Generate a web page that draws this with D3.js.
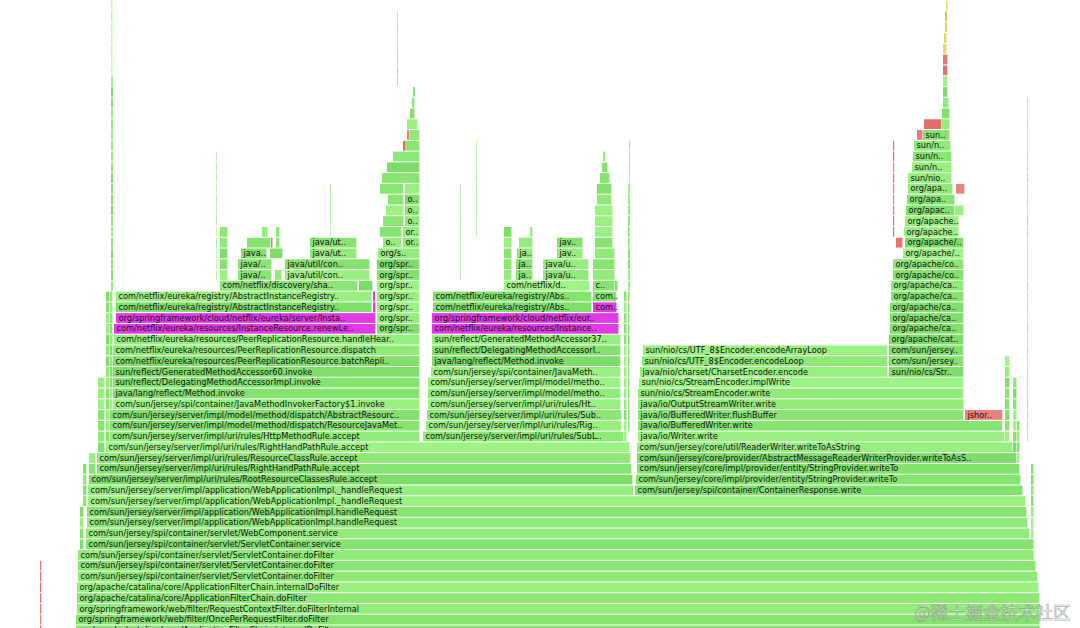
<!DOCTYPE html>
<html><head><meta charset="utf-8">
<script src="https://cdn.jsdelivr.net/npm/d3@7"></script>
<style>html,body{margin:0;padding:0;background:#fff;overflow:hidden} svg{display:block}</style>
</head><body>
<svg id="chart" width="1080" height="628"></svg>
<script>
// ---- DATA (sample offsets from the root frame start, sample counts, stack depth) ----
// each entry: [depth, startSample, sampleCount, label, kind]  kind: j=java, m=highlight, r=native, y=inlined
const totalSamples = 964;
const maxDepth = 58;

const baseStack = [
  [-1, 0, 964, "org/apache/catalina/core/ApplicationFilterChain.internalDoFilter"],
  [0, 0, 964, "org/springframework/web/filter/OncePerRequestFilter.doFilter"],
  [1, 1, 963, "org/springframework/web/filter/RequestContextFilter.doFilterInternal"],
  [2, 1, 963, "org/apache/catalina/core/ApplicationFilterChain.doFilter"],
  [3, 1, 962, "org/apache/catalina/core/ApplicationFilterChain.internalDoFilter"],
  [4, 2, 960, "com/sun/jersey/spi/container/servlet/ServletContainer.doFilter"],
  [5, 2, 958, "com/sun/jersey/spi/container/servlet/ServletContainer.doFilter"],
  [6, 2, 956, "com/sun/jersey/spi/container/servlet/ServletContainer.doFilter"],
  [7, 10, 946, "com/sun/jersey/spi/container/servlet/ServletContainer.service"],
  [8, 10, 944, "com/sun/jersey/spi/container/servlet/WebComponent.service"],
  [9, 11, 941, "com/sun/jersey/server/impl/application/WebApplicationImpl.handleRequest"],
  [10, 11, 940, "com/sun/jersey/server/impl/application/WebApplicationImpl.handleRequest"],
  [11, 12, 938, "com/sun/jersey/server/impl/application/WebApplicationImpl._handleRequest"],
  [12, 12, 546, "com/sun/jersey/server/impl/application/WebApplicationImpl._handleRequest"],
  [13, 13, 544, "com/sun/jersey/server/impl/uri/rules/RootResourceClassesRule.accept"],
  [14, 21, 535, "com/sun/jersey/server/impl/uri/rules/RightHandPathRule.accept"],
  [15, 21, 534, "com/sun/jersey/server/impl/uri/rules/ResourceClassRule.accept"],
  [16, 30, 524, "com/sun/jersey/server/impl/uri/rules/RightHandPathRule.accept"]
];

const peerReplicationStack = [
  [17, 34, 310, "com/sun/jersey/server/impl/uri/rules/HttpMethodRule.accept"],
  [18, 34, 310, "com/sun/jersey/server/impl/model/method/dispatch/ResourceJavaMet.."],
  [19, 34, 310, "com/sun/jersey/server/impl/model/method/dispatch/AbstractResourc.."],
  [20, 37, 307, "com/sun/jersey/spi/container/JavaMethodInvokerFactory$1.invoke"],
  [21, 37, 307, "java/lang/reflect/Method.invoke"],
  [22, 37, 307, "sun/reflect/DelegatingMethodAccessorImpl.invoke"],
  [23, 37, 307, "sun/reflect/GeneratedMethodAccessor60.invoke"],
  [24, 37, 307, "com/netflix/eureka/resources/PeerReplicationResource.batchRepli.."],
  [25, 37, 307, "com/netflix/eureka/resources/PeerReplicationResource.dispatch"],
  [26, 38, 306, "com/netflix/eureka/resources/PeerReplicationResource.handleHear.."],
  [27, 38, 262, "com/netflix/eureka/resources/InstanceResource.renewLe..", "m"],
  [27, 301, 43, "org/spr.."],
  [28, 40, 260, "org/springframework/cloud/netflix/eureka/server/Insta..", "m"],
  [28, 301, 43, "org/spr.."],
  [29, 40, 256, "com/netflix/eureka/registry/AbstractInstanceRegistry.."],
  [29, 297, 3, "", "m"],
  [29, 301, 43, "org/spr.."],
  [30, 40, 256, "com/netflix/eureka/registry/AbstractInstanceRegistry.."],
  [30, 297, 2, "", "m"],
  [30, 301, 43, "org/spr.."],
  [31, 144, 138, "com/netflix/discovery/sha.."],
  [31, 283, 14, ""],
  [31, 301, 43, "org/spr.."],
  [32, 162, 34, "java/.."],
  [32, 199, 7, ""],
  [32, 209, 85, "java/util/con.."],
  [32, 301, 43, "org/spr.."],
  [33, 162, 34, "java/.."],
  [33, 209, 85, "java/util/con.."],
  [33, 301, 43, "org/spr.."],
  [34, 165, 26, "java.."],
  [34, 194, 13, ""],
  [34, 234, 47, "java/ut.."],
  [34, 302, 42, "org/s.."],
  [35, 171, 24, ""],
  [35, 195, 1.5, "", "r"],
  [35, 200, 4, ""],
  [35, 234, 47, "java/ut.."],
  [35, 307, 19, "o.."],
  [35, 327, 17, "or.."],
  [36, 186, 6, ""],
  [36, 200, 4, ""],
  [36, 304, 22, ""],
  [36, 327, 17, "or.."],
  [37, 307, 21, ""],
  [37, 329, 15, "o.."],
  [38, 310, 18, ""],
  [38, 329, 15, "o.."],
  [39, 312, 16, ""],
  [39, 329, 15, "o.."],
  [40, 304, 24, ""],
  [40, 329, 15, ""],
  [41, 306, 38, ""],
  [42, 311, 33, ""],
  [43, 317, 27, ""],
  [44, 327, 2, "", "r"],
  [44, 329, 15, ""],
  [45, 331, 3, "", "r"],
  [45, 334, 10, ""],
  [46, 331, 11, ""],
  [47, 334, 5, ""],
  [48, 336, 3, ""],
  [49, 337, 2, ""]
];

const instanceResourceStack = [
  [17, 347, 201, "com/sun/jersey/server/impl/uri/rules/SubL.."],
  [18, 350, 196, "com/sun/jersey/server/impl/uri/rules/Rig.."],
  [19, 351, 195, "com/sun/jersey/server/impl/uri/rules/Sub.."],
  [20, 352, 193, "com/sun/jersey/server/impl/uri/rules/Ht.."],
  [21, 352, 193, "com/sun/jersey/server/impl/model/metho.."],
  [22, 352, 193, "com/sun/jersey/server/impl/model/metho.."],
  [23, 355, 190, "com/sun/jersey/spi/container/JavaMeth.."],
  [24, 356, 189, "java/lang/reflect/Method.invoke"],
  [25, 356, 189, "sun/reflect/DelegatingMethodAccessorI.."],
  [26, 356, 189, "sun/reflect/GeneratedMethodAccessor37.."],
  [27, 356, 187, "com/netflix/eureka/resources/Instance..", "m"],
  [28, 356, 187, "org/springframework/cloud/netflix/eur..", "m"],
  [29, 357, 159, "com/netflix/eureka/registry/Abs.."],
  [29, 517, 24, "com..", "m"],
  [30, 357, 159, "com/netflix/eureka/registry/Abs.."],
  [30, 517, 24, "com.."],
  [31, 428, 86, "com/netflix/d.."],
  [31, 517, 22, "c.."],
  [31, 539, 3, ""],
  [32, 440, 17, "ja.."],
  [32, 467, 46, "java/u.."],
  [32, 517, 22, ""],
  [33, 440, 17, "ja.."],
  [33, 467, 46, "java/u.."],
  [33, 517, 22, ""],
  [34, 441, 16, "ja.."],
  [34, 481, 26, "jav.."],
  [34, 519, 20, ""],
  [35, 443, 14, ""],
  [35, 481, 26, "jav.."],
  [35, 519, 18, ""],
  [36, 454, 3, ""],
  [36, 519, 18, ""],
  [37, 519, 18, ""],
  [38, 519, 18, ""],
  [39, 521, 15, ""],
  [40, 521, 15, ""],
  [41, 524, 10, ""],
  [42, 526, 6, ""],
  [43, 527, 3, ""]
];

const responseWriteStack = [
  [12, 559, 388, "com/sun/jersey/spi/container/ContainerResponse.write"],
  [13, 560, 385, "com/sun/jersey/core/impl/provider/entity/StringProvider.writeTo"],
  [14, 561, 382, "com/sun/jersey/core/impl/provider/entity/StringProvider.writeTo"],
  [15, 561, 380, "com/sun/jersey/core/provider/AbstractMessageReaderWriterProvider.writeToAsS.."],
  [16, 561, 376, "com/sun/jersey/core/util/ReaderWriter.writeToAsString"],
  [17, 562, 367, "java/io/Writer.write"],
  [18, 562, 365, "java/io/BufferedWriter.write"],
  [19, 562, 326, "java/io/BufferedWriter.flushBuffer"],
  [19, 889, 38, "jshor..", "r"],
  [20, 562, 326, "java/io/OutputStreamWriter.write"],
  [21, 562, 326, "sun/nio/cs/StreamEncoder.write"],
  [22, 563, 325, "sun/nio/cs/StreamEncoder.implWrite"],
  [23, 564, 248, "java/nio/charset/CharsetEncoder.encode"],
  [23, 813, 75, "sun/nio/cs/Str.."],
  [24, 566, 246, "sun/nio/cs/UTF_8$Encoder.encodeLoop"],
  [24, 813, 75, "com/sun/jersey.."],
  [25, 567, 245, "sun/nio/cs/UTF_8$Encoder.encodeArrayLoop"],
  [25, 813, 75, "com/sun/jersey.."]
];

const catalinaTower = [
  [26, 813, 75, "org/apache/cat.."],
  [27, 814, 74, "org/apache/ca.."],
  [28, 814, 74, "org/apache/ca.."],
  [29, 814, 74, "org/apache/ca.."],
  [30, 815, 73, "org/apache/ca.."],
  [31, 815, 73, "org/apache/ca.."],
  [32, 817, 71, "org/apache/co.."],
  [33, 817, 71, "org/apache/co.."],
  [34, 827, 61, "org/apache/.."],
  [35, 820, 7, "", "r"],
  [35, 829, 59, "org/apache/.."],
  [36, 828, 55, "org/apache.."],
  [37, 829, 54, "org/apache.."],
  [38, 830, 49, "org/apac.."],
  [38, 879, 9, ""],
  [39, 831, 48, "org/apa.."],
  [40, 832, 45, "org/apa.."],
  [40, 880, 9, "", "r"],
  [41, 832, 44, "sun/nio.."],
  [42, 836, 40, "sun/n.."],
  [43, 837, 39, "sun/n.."],
  [44, 838, 37, "sun/n.."],
  [45, 841, 6, "", "r"],
  [45, 847, 27, "sun.."],
  [46, 848, 18, "", "r"],
  [46, 866, 8, ""],
  [47, 866, 8, ""],
  [48, 867, 6, ""],
  [49, 867, 5, ""],
  [50, 867, 5, ""],
  [51, 867, 5, "", "r"],
  [52, 867, 5, "", "r"],
  [53, 867, 4, "", "y"],
  [54, 868, 3, "", "y"],
  [55, 869, 2, "", "y"],
  [56, 869, 2, "", "y"],
  [57, 870, 1.5, "", "y"]
];

// narrow call chains repeated over a depth range: [fromDepth, toDepth, startSample, sampleCount, kind]
const narrowChains = [
  [-1, 5, -36, 1.2, "r"],
  [7, 10, 4, 4, "j"],
  [11, 14, 7, 4, "j"],
  [14, 15, 13, 7, "j"],
  [16, 22, 22, 7, "j"],
  [17, 30, 30, 4, "j"],
  [20, 30, 34, 3, "j"],
  [31, 50, 35, 2, "j"],
  [51, 57, 35.5, 0.8, "j"],
  [32, 36, 144, 8, "j"],
  [32, 43, 140, 0.6, "j"],
  [36, 40, 254, 0.6, "j"],
  [32, 36, 428, 8, "j"],
  [32, 40, 384, 0.6, "j"],
  [36, 44, 400, 0.6, "j"],
  [17, 30, 548, 3, "j"],
  [18, 40, 552, 1.5, "j"],
  [31, 44, 553, 0.7, "j"],
  [36, 44, 817, 1.2, "r"],
  [17, 24, 929, 5, "j"],
  [16, 22, 937, 4, "j"],
  [13, 18, 941, 3, "j"],
  [17, 48, 951, 0.7, "j"],
  [6, 14, 955, 3, "j"],
  [50, 56, 321, 0.7, "j"]
];

const watermarkText = "@稀土掘金技术社区";

// ---- RENDER ----
const W = 1080, H = 628;
const rowStep = 10.77;
const x = d3.scaleLinear().domain([0, totalSamples]).range([76, 1040]);
const y = d3.scaleLinear().domain([0, maxDepth]).range([614.7, 614.7 - maxDepth * rowStep]);

const frames = [];
function pushList(list) {
  list.forEach(d => frames.push({depth: d[0], start: d[1], size: d[2], label: d[3] || "", kind: d[4] || "j"}));
}
// narrow chains first so labelled frames paint on top
narrowChains.forEach(c => {
  for (let k = c[0]; k <= c[1]; k++) frames.push({depth: k, start: c[2], size: c[3], label: "", kind: c[4]});
});
[baseStack, peerReplicationStack, instanceResourceStack, responseWriteStack, catalinaTower].forEach(pushList);

function hash(s) { let h = 2166136261; for (let i = 0; i < s.length; i++) { h ^= s.charCodeAt(i); h = Math.imul(h, 16777619) >>> 0; } return h; }
const greenScale = d3.interpolateRgb("rgb(124,220,104)", "rgb(158,244,132)");
const redScale = d3.interpolateRgb("rgb(222,104,104)", "rgb(236,130,126)");
const yelScale = d3.interpolateRgb("rgb(206,206,80)", "rgb(226,226,110)");
function frameColor(d) {
  const t = (hash(d.label + "|" + d.depth + "|" + d.start) % 1000) / 1000;
  if (d.kind === "m") return "rgb(224,58,228)";
  if (d.kind === "r") return redScale(t);
  if (d.kind === "y") return yelScale(t);
  return greenScale(t);
}

const svg = d3.select("#chart");
svg.append("rect").attr("width", W).attr("height", H).attr("fill", "#fff");

const g = svg.append("g");
const nodes = g.selectAll("g.frame").data(frames).join("g").attr("class", "frame");
nodes.append("rect")
  .attr("x", d => x(d.start))
  .attr("y", d => y(d.depth))
  .attr("width", d => Math.max(0.4, x(d.start + d.size) - x(d.start) - (d.size > 2 ? 0.6 : 0)))
  .attr("height", rowStep - 1)
  .attr("fill", d => frameColor(d));
nodes.filter(d => d.label).append("text")
  .attr("x", d => x(d.start) + 2.5)
  .attr("y", d => y(d.depth) + rowStep - 3.2)
  .attr("font-family", "'DejaVu Sans', Verdana, sans-serif")
  .attr("font-size", "8.2px")
  .attr("fill", "#111")
  .text(d => d.label);

svg.append("text")
  .attr("x", 914).attr("y", 619)
  .attr("font-family", "'Noto Sans CJK SC', sans-serif")
  .attr("font-size", "17.5px")
  .attr("fill", "rgba(255,255,255,0.55)")
  .attr("stroke", "rgba(110,110,110,0.6)")
  .attr("stroke-width", 0.7)
  .text(watermarkText);
</script>
</body></html>
